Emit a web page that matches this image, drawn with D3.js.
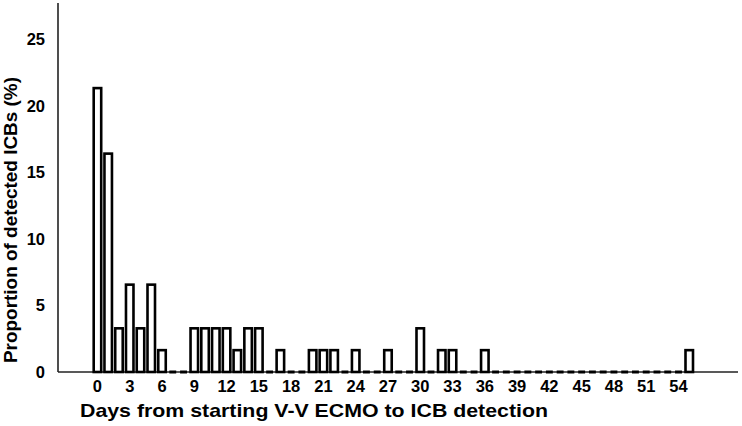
<!DOCTYPE html>
<html>
<head>
<meta charset="utf-8">
<script src="https://cdn.jsdelivr.net/npm/d3@7"></script>
<style>
  body { margin: 0; background: #fff; }
  text { font-family: "Liberation Sans", Arial, sans-serif; font-weight: bold; }
</style>
</head>
<body>
<script>
// Days since V-V ECMO start, and share of detected ICBs (%) per day (n = 61)
var days = d3.range(0, 56);
var counts = [13, 10, 2, 4, 2, 4, 1, 0, 0, 2, 2, 2, 2, 1, 2, 2, 0, 1, 0, 0,
  1, 1, 1, 0, 1, 0, 0, 1, 0, 0, 2, 0, 1, 1, 0, 0, 1, 0, 0, 0,
  0, 0, 0, 0, 0, 0, 0, 0, 0, 0, 0, 0, 0, 0, 0, 1];
var percents = counts.map(function(c) { return c / 61 * 100; });
var xTicks = d3.range(0, 55, 3);
var yTicks = [0, 5, 10, 15, 20, 25];

var width = 742;
var height = 426;

var svg = d3.select('body').append('svg')
  .attr('width', width)
  .attr('height', height);

var x = d3.scaleBand()
  .domain(days)
  .range([92.5, 694.2])
  .paddingInner(0.08)
  .paddingOuter(0);

var y = d3.scaleLinear()
  .domain([0, 27.7])
  .range([372, 3]);

// axes lines
svg.append('line')
  .attr('x1', 58).attr('x2', 738)
  .attr('y1', y(0)).attr('y2', y(0))
  .attr('stroke', '#222').attr('stroke-width', 1.3);

svg.append('line')
  .attr('x1', 58).attr('x2', 58)
  .attr('y1', 3).attr('y2', y(0))
  .attr('stroke', '#222').attr('stroke-width', 1.6);

// y tick labels
svg.selectAll('text.ytick').data(yTicks).enter()
  .append('text')
  .attr('class', 'ytick')
  .attr('x', 45)
  .attr('y', function(d) { return y(d); })
  .attr('dy', '0.36em')
  .attr('text-anchor', 'end')
  .attr('font-size', 16.5)
  .text(function(d) { return d; });

// x tick labels
svg.selectAll('text.xtick').data(xTicks).enter()
  .append('text')
  .attr('class', 'xtick')
  .attr('x', function(d) { return x(d) + x.bandwidth() / 2; })
  .attr('y', 386)
  .attr('dy', '0.36em')
  .attr('text-anchor', 'middle')
  .attr('font-size', 16.5)
  .text(function(d) { return d; });

// bars (zero values drawn as short dashes on the baseline)
var data = days.map(function(d, i) { return { day: d, v: percents[i] }; });

svg.selectAll('rect.bar').data(data.filter(function(d) { return d.v > 0; }))
  .enter().append('rect')
  .attr('class', 'bar')
  .attr('x', function(d) { return x(d.day) + 1.2; })
  .attr('width', x.bandwidth() - 2.4)
  .attr('y', function(d) { return y(d.v); })
  .attr('height', function(d) { return y(0) - y(d.v); })
  .attr('fill', '#fff')
  .attr('stroke', '#000')
  .attr('stroke-width', 2.6);

svg.selectAll('line.zero').data(data.filter(function(d) { return d.v === 0; }))
  .enter().append('line')
  .attr('class', 'zero')
  .attr('x1', function(d) { return x(d.day) + 1.5; })
  .attr('x2', function(d) { return x(d.day) + x.bandwidth() - 1.5; })
  .attr('y1', y(0)).attr('y2', y(0))
  .attr('stroke', '#000')
  .attr('stroke-width', 3);

// axis titles
svg.append('text')
  .attr('x', 80)
  .attr('y', 417)
  .attr('font-size', 19)
  .attr('textLength', 468)
  .attr('lengthAdjust', 'spacingAndGlyphs')
  .text('Days from starting V-V ECMO to ICB detection');

svg.append('text')
  .attr('transform', 'translate(17,220) rotate(-90)')
  .attr('text-anchor', 'middle')
  .attr('font-size', 18.5)
  .attr('textLength', 286)
  .attr('lengthAdjust', 'spacingAndGlyphs')
  .text('Proportion of detected ICBs (%)');
</script>
</body>
</html>
